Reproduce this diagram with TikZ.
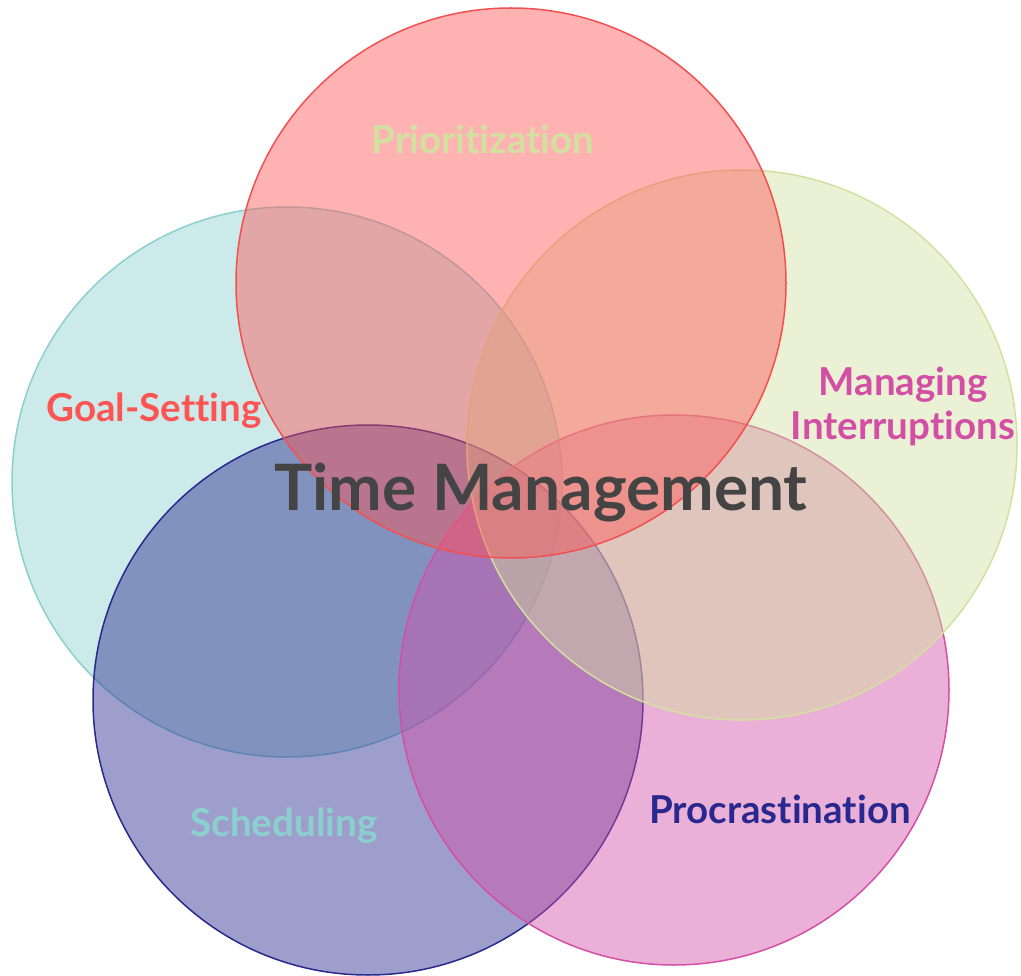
\documentclass[tikz,border=0pt]{standalone}
\usepackage{fontspec}
\setmainfont[Ligatures={NoCommon,NoRequired,NoContextual}]{Lato}
\definecolor{cteal}{RGB}{139,208,206}
\definecolor{cred}{RGB}{255,84,84}
\definecolor{cyel}{RGB}{211,224,159}
\definecolor{cpink}{RGB}{211,79,166}
\definecolor{cnavy}{RGB}{40,40,142}
\definecolor{ctext}{RGB}{68,68,68}
\begin{document}
\begin{tikzpicture}[x=1pt,y=-1pt,
  ring/.style={circle,minimum size=550pt,inner sep=0pt,line width=1.5pt,fill opacity=0.45,draw opacity=1},
  lab/.style={font=\bfseries\fontsize{38.5}{44}\selectfont,align=center,inner sep=0pt}]
\useasboundingbox (0,0) rectangle (1021,976);
% circles, bottom to top
\node[ring,draw=cteal,fill=cteal] (goal) at (287,482) {};
\node[ring,draw=cnavy,fill=cnavy] (sched) at (368,700) {};
\node[ring,draw=cpink,fill=cpink] (procr) at (674,690) {};
\node[ring,draw=cyel,fill=cyel] (manag) at (742,445) {};
\node[ring,draw=cred!95!black,fill=cred] (prior) at (511,283) {};
% labels
\node[lab,text=cred] (tgoal) at (154,411) {Goal-Setting};
\node[lab,text=cyel] (tprior) at (483,139) {Prioritization};
\node[lab,text=cpink] (tmanag) at (903,406) {Managing\\Interruptions};
\node[lab,text=cnavy] (tprocr) at (780,809) {Procrastination};
\node[lab,text=cteal] (tsched) at (284,826) {Scheduling};
\node[text=ctext,font=\bfseries\fontsize{64}{70}\selectfont,inner sep=0pt] (title) at (541,493) {Time Management};
\end{tikzpicture}
\end{document}
